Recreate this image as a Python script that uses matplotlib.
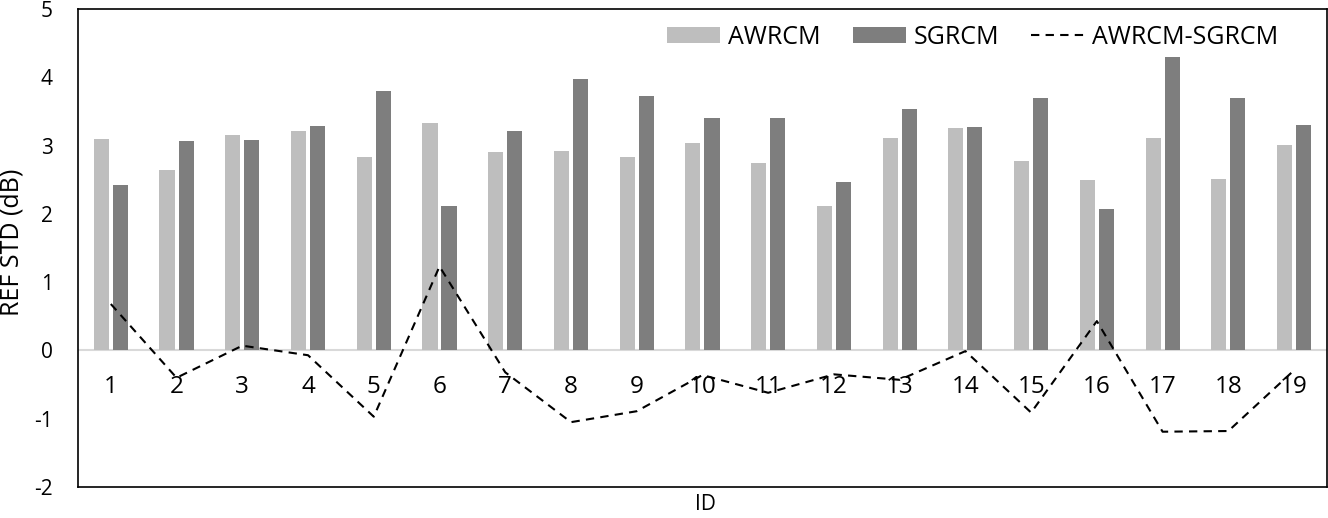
import numpy as np
import matplotlib.pyplot as plt

# valori
ids = list(range(1, 20))
awrcm = [3.10, 2.64, 3.16, 3.22, 2.83, 3.33, 2.91, 2.92, 2.83, 3.04,
         2.75, 2.11, 3.11, 3.26, 2.78, 2.50, 3.11, 2.51, 3.01]
sgrcm = [2.42, 3.07, 3.08, 3.29, 3.80, 2.11, 3.22, 3.98, 3.73, 3.41,
         3.41, 2.47, 3.54, 3.27, 3.69, 2.07, 4.30, 3.70, 3.30]
diff = [0.68, -0.40, 0.07, -0.07, -0.97, 1.23, -0.32, -1.05, -0.89, -0.36,
        -0.62, -0.35, -0.43, -0.01, -0.91, 0.43, -1.19, -1.18, -0.29]

plt.rcParams['font.family'] = ['Open Sans', 'DejaVu Sans']
plt.rcParams['axes.unicode_minus'] = False

W, H = 1328, 518
fig = plt.figure(figsize=(W / 100, H / 100), dpi=100)
ax = fig.add_axes([0.0587, 0.0598, 0.9405, 0.9228])

x = np.arange(len(ids))
w = 0.23
b1 = ax.bar(x - 0.145, awrcm, w, color='#BEBEBE', label='AWRCM', zorder=2)
b2 = ax.bar(x + 0.145, sgrcm, w, color='#7E7E7E', label='SGRCM', zorder=2)
ax.axhline(0, color='#D9D9D9', lw=1.5, zorder=1)
l1, = ax.plot(x, diff, color='black', lw=1.5, linestyle=(0, (4, 3)),
              label='AWRCM-SGRCM', zorder=3)

ax.set_xlim(-0.5, len(ids) - 0.5)
ax.set_ylim(-2, 5)
ax.set_yticks(range(-2, 6))
ax.tick_params(axis='y', length=0, pad=18, labelsize=15)
ax.set_xticks([])

# etichette delle categorie sotto lo zero
for i, lab in zip(x, ids):
    ax.annotate(str(lab), xy=(i, 0), xytext=(0, -37), textcoords='offset pixels',
                ha='center', va='center', fontsize=17.5, zorder=4)

for s in ax.spines.values():
    s.set_linewidth(1.2)
    s.set_color('black')

fig.text(12.5 / W, 1 - 242 / H, 'REF STD (dB)', rotation=90, ha='center',
         va='center', fontsize=18)
fig.text(705 / W, 1 - 505 / H, 'ID', ha='center', va='center', fontsize=15)

ax.legend([b1, b2, l1], ['AWRCM', 'SGRCM', 'AWRCM-SGRCM'],
          loc='upper right', bbox_to_anchor=(0.979, 1.014), ncol=3, frameon=False,
          fontsize=18, handlelength=2.12, handleheight=0.6, columnspacing=1.3,
          handletextpad=0.3)

fig.savefig('out.png', dpi=100)
